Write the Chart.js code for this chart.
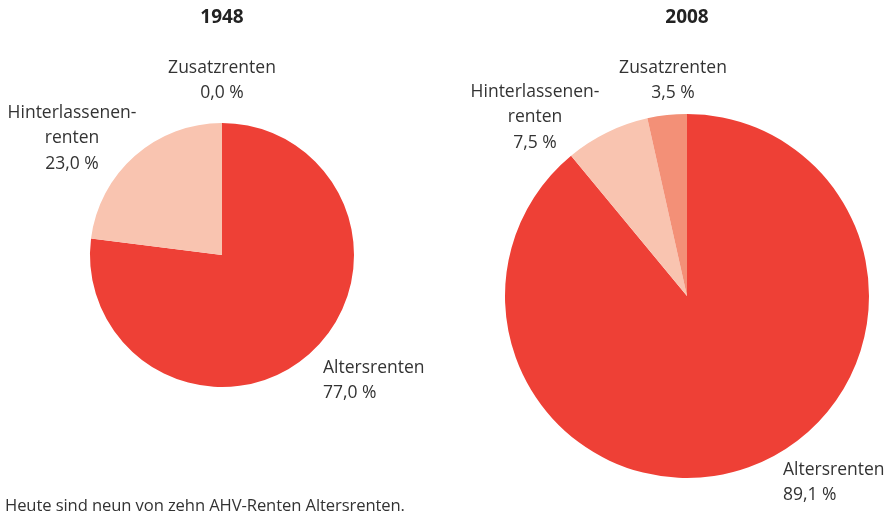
<!DOCTYPE html>
<html>
<head>
<meta charset="utf-8">
<script src="https://cdn.jsdelivr.net/npm/chart.js@4/dist/chart.umd.min.js"></script>
<style>
  html,body{margin:0;padding:0;background:#fff;}
  #wrap{position:relative;width:889px;height:513px;overflow:hidden;font-family:"Open Sans",sans-serif;}
  .box{position:absolute;top:0;height:513px;}
  #note{position:absolute;left:5px;top:493px;font-size:16.6px;color:#333;white-space:nowrap;letter-spacing:-0.1px;}
</style>
</head>
<body>
<div id="wrap">
  <div class="box" style="left:0;width:445px"><canvas id="c1948"></canvas></div>
  <div class="box" style="left:445px;width:444px"><canvas id="c2008"></canvas></div>
  <div id="note">Heute sind neun von zehn AHV-Renten Altersrenten.</div>
</div>
<script>
const categories = ['Altersrenten', 'Hinterlassenenrenten', 'Zusatzrenten'];
const values1948 = [77.0, 23.0, 0.0];
const values2008 = [89.1, 7.5, 3.5];
const sliceColors = ['#ee4036', '#f9c4b0', '#f39077'];

// label text per slice, lines as shown in the reference
function pct(v){ return v.toFixed(1).replace('.', ',') + ' %'; }

// labelPlugin: title + slice labels, positions given relative to pie centre
const labelPlugin = {
  id: 'pieLabels',
  afterDraw(chart, args, opts){
    const ctx = chart.ctx;
    const arc = chart.getDatasetMeta(0).data[0];
    const cx = arc.x, cy = arc.y;
    ctx.save();
    ctx.textBaseline = 'middle';
    ctx.fillStyle = '#222';
    ctx.font = 'bold 19px "Open Sans", sans-serif';
    ctx.textAlign = 'center';
    ctx.fillText(opts.title, cx, opts.titleY);
    ctx.fillStyle = '#333';
    ctx.font = '17.5px "Open Sans", sans-serif';
    opts.items.forEach(it => {
      ctx.textAlign = it.align;
      it.lines.forEach((ln, i) => ctx.fillText(ln, cx + it.dx, cy + it.dy + i * 25.5));
    });
    ctx.restore();
  }
};

function makePie(id, values, pad, title, items){
  new Chart(document.getElementById(id), {
    type: 'pie',
    data: {labels: categories, datasets: [{data: values, backgroundColor: sliceColors, borderWidth: 0}]},
    options: {
      responsive: true, maintainAspectRatio: false, animation: false,
      layout: {padding: pad},
      plugins: {legend: {display: false}, tooltip: {enabled: false}, pieLabels: {title, titleY: 18, items}}
    },
    plugins: [labelPlugin]
  });
}

makePie('c1948', values1948, {left: 90, right: 91, top: 123, bottom: 126}, '1948', [
  {lines: ['Zusatzrenten', pct(values1948[2])], dx: 0, dy: -187, align: 'center'},
  {lines: ['Hinterlassenen-', 'renten', pct(values1948[1])], dx: -150, dy: -142, align: 'center'},
  {lines: [categories[0], pct(values1948[0])], dx: 101, dy: 113, align: 'left'}
]);

makePie('c2008', values2008, {left: 60, right: 20, top: 114, bottom: 35}, '2008', [
  {lines: ['Zusatzrenten', pct(values2008[2])], dx: -14, dy: -228, align: 'center'},
  {lines: ['Hinterlassenen-', 'renten', pct(values2008[1])], dx: -152, dy: -204, align: 'center'},
  {lines: [categories[0], pct(values2008[0])], dx: 96, dy: 174, align: 'left'}
]);
</script>
</body>
</html>
